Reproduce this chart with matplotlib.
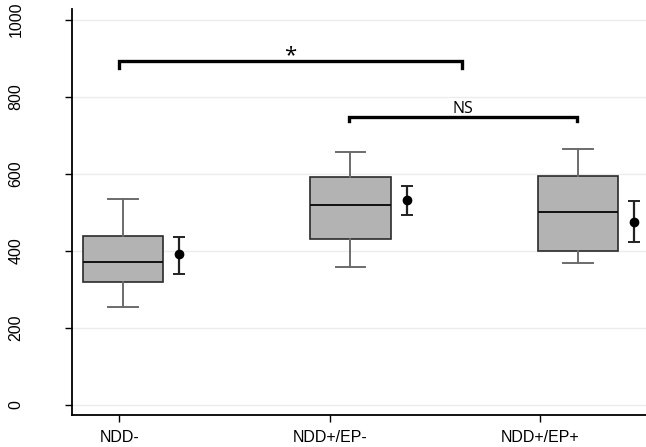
import matplotlib
matplotlib.use("Agg")
import matplotlib.pyplot as plt

categories = ["NDD-", "NDD+/EP-", "NDD+/EP+"]
whisker_low = [254, 357, 369]
q1 = [319, 431, 400]
median = [370, 518, 500]
q3 = [438, 591, 595]
whisker_high = [534, 656, 663]
mean = [391, 531, 476]
ci_low = [341, 494, 423]
ci_high = [436, 568, 530]
y_ticks = [0, 200, 400, 600, 800, 1000]

plt.rcParams['font.family'] = ['Liberation Sans', 'DejaVu Sans']

fig = plt.figure(figsize=(6.46, 4.47), dpi=100)
ax = fig.add_axes([0.1115, 0.0716, 0.8885, 0.908])

positions = [0, 1, 2]
stats = []
for i in range(len(categories)):
    stats.append(dict(med=median[i], q1=q1[i], q3=q3[i],
                      whislo=whisker_low[i], whishi=whisker_high[i], fliers=[]))

ax.bxp(stats, positions=positions, widths=0.352, patch_artist=True,
       showfliers=False, capwidths=0.13,
       boxprops=dict(facecolor="#b3b3b3", edgecolor="#2b2b2b", linewidth=1.2),
       medianprops=dict(color="#111111", linewidth=1.4),
       whiskerprops=dict(color="#6b6b6b", linewidth=1.4),
       capprops=dict(color="#6b6b6b", linewidth=1.4))

mean_x = [p + 0.2475 for p in positions]
yerr = [[m - l for m, l in zip(mean, ci_low)], [h - m for m, h in zip(mean, ci_high)]]
ax.errorbar(mean_x, mean, yerr=yerr, fmt='o', color='black', ecolor='#222222',
            markersize=6, elinewidth=1.6, capsize=4, capthick=1.4, zorder=5)

# tick positions (offset from boxes as in reference)
tick_pos = [-0.016, 0.91, 1.833]
ax.set_xticks(tick_pos)
ax.set_xticklabels(categories, fontsize=11.5)
ax.set_xlim(-0.224, 2.299)
ax.set_ylim(-26, 1027)
ax.set_yticks(y_ticks)
ax.set_yticklabels([str(t) for t in y_ticks], fontsize=11.5, rotation=90, va='center')
ax.tick_params(axis='y', length=5, width=1, pad=30)
ax.tick_params(axis='x', length=5, width=1, pad=6)

ax.yaxis.grid(True, color="#ececec", linewidth=1)
ax.set_axisbelow(True)
for s in ['top', 'right']:
    ax.spines[s].set_visible(False)
for s in ['left', 'bottom']:
    ax.spines[s].set_linewidth(1.3)
    ax.spines[s].set_color('black')

# significance brackets
def bracket(x1, x2, y, drop, label, ty, fs):
    ax.plot([x1, x1, x2, x2], [y - drop, y, y, y - drop], color='black',
            linewidth=2.4, solid_joinstyle='miter', clip_on=False)
    ax.text((x1 + x2) / 2, ty, label, ha='center', va='bottom', fontsize=fs,
            family=['Open Sans', 'DejaVu Sans'])

bracket(-0.018, 1.49, 892, 17, "*", 878, 16)
bracket(0.993, 1.996, 746, 9, "NS", 748, 11.5)

fig.savefig("out.png", dpi=100)
